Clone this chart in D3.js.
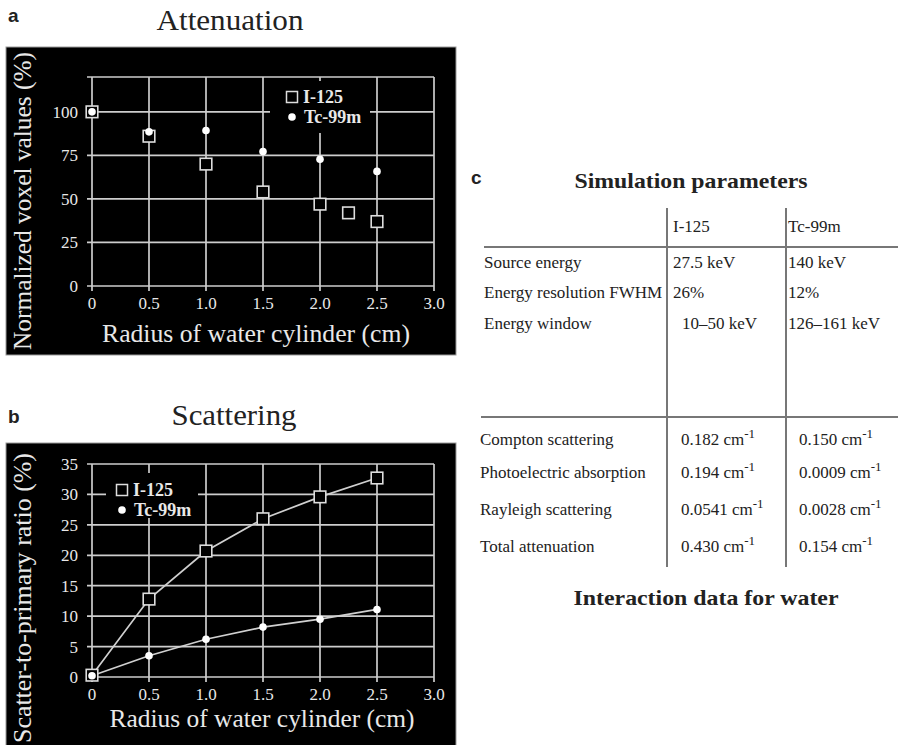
<!DOCTYPE html>
<html><head><meta charset="utf-8">
<script src="https://cdn.jsdelivr.net/npm/d3@7"></script>
<style>
body{margin:0;background:#fff;}
svg{display:block;}
</style></head>
<body>
<svg id="c" width="898" height="745"></svg>
<script>
// ---------- data ----------
const radius = [0, 0.5, 1.0, 1.5, 2.0, 2.5];
const attenI125X = [0, 0.5, 1.0, 1.5, 2.0, 2.25, 2.5];
const attenI125 = [100, 86, 70, 54, 47, 42, 37];
const attenTc99m = [100, 88.5, 89.3, 77.2, 72.8, 65.8];
const scatI125 = [0.3, 12.8, 20.7, 26, 29.6, 32.7];
const scatTc99m = [0.2, 3.5, 6.2, 8.2, 9.5, 11.1];
const xTicks = [0, 0.5, 1.0, 1.5, 2.0, 2.5, 3.0];
const attenYTicks = [0, 25, 50, 75, 100];
const scatYTicks = [0, 5, 10, 15, 20, 25, 30, 35];
const seriesNames = ["I-125", "Tc-99m"];
const tableCols = ["I-125", "Tc-99m"];
const simRows = ["Source energy", "Energy resolution FWHM", "Energy window"];
const simI125 = ["27.5 keV", "26%", "10\u201350 keV"];
const simTc = ["140 keV", "12%", "126\u2013161 keV"];
const intRows = ["Compton scattering", "Photoelectric absorption", "Rayleigh scattering", "Total attenuation"];
const intI125 = ["0.182", "0.194", "0.0541", "0.430"];
const intTc = ["0.150", "0.0009", "0.0028", "0.154"];

const svg = d3.select("#c");
const serif = "'Liberation Serif','Times New Roman',serif";
const sans = "'Liberation Sans',Arial,sans-serif";
const gridCol = "#cdcdcd", txtCol = "#e8e8e8";

function fmtX(d){ return d === 0 ? "0" : d.toFixed(1); }

function panel(o){
  const g = svg.append("g");
  g.append("text").attr("x", 8).attr("y", o.letterY).text(o.letter)
    .attr("font-family", sans).attr("font-weight", "bold").attr("font-size", 19).attr("fill", "#222");
  g.append("text").attr("x", o.titleX).attr("y", o.titleY).text(o.title)
    .attr("text-anchor", "middle").attr("font-family", serif).attr("font-size", 29).attr("fill", "#222")
    .attr("textLength", o.titleW).attr("lengthAdjust", "spacingAndGlyphs");
  g.append("rect").attr("x", o.box[0]).attr("y", o.box[1]).attr("width", o.box[2]).attr("height", o.box[3])
    .attr("fill", "#000").attr("stroke", "#999").attr("stroke-width", 1);

  const x = d3.scaleLinear().domain([0, 3]).range([92, 434]);
  const y = d3.scaleLinear().domain(o.yDomain).range(o.yRange);
  const grid = g.append("g").attr("stroke", gridCol).attr("stroke-width", 1.7);
  const hLines = o.yTicks.concat(o.yDomain[1] !== o.yTicks[o.yTicks.length-1] ? [o.yDomain[1]] : []);
  grid.selectAll(".h").data(hLines).join("line")
    .attr("x1", x(0) - 5).attr("x2", x(3)).attr("y1", d => y(d)).attr("y2", d => y(d));
  grid.selectAll(".v").data(xTicks).join("line")
    .attr("x1", d => x(d)).attr("x2", d => x(d)).attr("y1", y(o.yDomain[1])).attr("y2", y(0) + 5);

  g.append("g").selectAll("text").data(o.yTicks).join("text")
    .attr("x", 78).attr("y", d => y(d)).attr("dy", "0.35em").attr("text-anchor", "end")
    .attr("font-family", serif).attr("font-size", 17).attr("fill", txtCol).text(d => d);
  g.append("g").selectAll("text").data(xTicks).join("text")
    .attr("x", d => x(d)).attr("y", o.xLabY).attr("text-anchor", "middle")
    .attr("font-family", serif).attr("font-size", 17).attr("fill", txtCol).text(fmtX);
  g.append("text").attr("x", o.xTitleX).attr("y", o.xTitleY).attr("text-anchor", "middle")
    .attr("font-family", serif).attr("font-size", 25).attr("fill", txtCol).text("Radius of water cylinder (cm)")
    .attr("textLength", o.xTitleW).attr("lengthAdjust", "spacingAndGlyphs");
  g.append("text").attr("transform", `translate(31,${o.yTitleC}) rotate(-90)`).attr("text-anchor", "middle")
    .attr("font-family", serif).attr("font-size", 25).attr("fill", txtCol).text(o.yTitle)
    .attr("textLength", o.yTitleW).attr("lengthAdjust", "spacingAndGlyphs");

  const L = o.legend;
  g.append("rect").attr("x", L.x).attr("y", L.y).attr("width", L.w).attr("height", L.h).attr("fill", "#000");
  g.append("rect").attr("x", L.mx - 5.5).attr("y", L.y1 - 5.5).attr("width", 11).attr("height", 11)
    .attr("fill", "#000").attr("stroke", "#ddd").attr("stroke-width", 1.5);
  g.append("circle").attr("cx", L.mx).attr("cy", L.y2).attr("r", 3.8).attr("fill", "#fff");
  g.append("text").attr("x", L.mx + 11).attr("y", L.y1).attr("dy", "0.35em").text(seriesNames[0])
    .attr("font-family", serif).attr("font-weight", "bold").attr("font-size", 18).attr("fill", txtCol);
  g.append("text").attr("x", L.mx + 12).attr("y", L.y2).attr("dy", "0.35em").text(seriesNames[1])
    .attr("font-family", serif).attr("font-weight", "bold").attr("font-size", 18).attr("fill", txtCol);

  const d1 = o.s1x.map((v, i) => [v, o.s1[i]]);
  const d2 = radius.map((v, i) => [v, o.s2[i]]);
  if (o.lines) {
    const line = d3.line().x(d => x(d[0])).y(d => y(d[1]));
    g.append("path").attr("d", line(d1)).attr("fill", "none").attr("stroke", "#d0d0d0").attr("stroke-width", 1.7);
    g.append("path").attr("d", line(d2)).attr("fill", "none").attr("stroke", "#d0d0d0").attr("stroke-width", 1.7);
  }
  g.append("g").selectAll("rect").data(d1).join("rect")
    .attr("x", d => x(d[0]) - 5.8).attr("y", d => y(d[1]) - 5.8).attr("width", 11.6).attr("height", 11.6)
    .attr("fill", "#000").attr("stroke", "#ddd").attr("stroke-width", 1.6);
  g.append("g").selectAll("circle").data(d2).join("circle")
    .attr("cx", d => x(d[0])).attr("cy", d => y(d[1])).attr("r", 3.8).attr("fill", "#fff");
}

panel({
  letter: "a", letterY: 22, title: "Attenuation", titleX: 230, titleY: 30, titleW: 147,
  box: [6, 47, 450, 308],
  yDomain: [0, 120], yRange: [286, 77], yTicks: attenYTicks,
  xLabY: 309, xTitleX: 256, xTitleY: 342, xTitleW: 308,
  yTitle: "Normalized voxel values (%)", yTitleC: 201, yTitleW: 298,
  legend: {x: 270, y: 81, w: 100, h: 52, mx: 292, y1: 97, y2: 117},
  s1x: attenI125X, s1: attenI125, s2: attenTc99m, lines: false
});
panel({
  letter: "b", letterY: 423, title: "Scattering", titleX: 234, titleY: 425, titleW: 125,
  box: [6, 443, 450, 305],
  yDomain: [0, 35], yRange: [677, 464], yTicks: scatYTicks,
  xLabY: 700, xTitleX: 262, xTitleY: 727, xTitleW: 305,
  yTitle: "Scatter-to-primary ratio (%)", yTitleC: 598, yTitleW: 290,
  legend: {x: 106, y: 473, w: 92, h: 45, mx: 122, y1: 490, y2: 510},
  s1x: radius, s1: scatI125, s2: scatTc99m, lines: true
});

// ---------- table c ----------
const t = svg.append("g");
const tc = "#222", lc = "#777";
t.append("text").attr("x", 471).attr("y", 184).text("c").attr("font-family", sans).attr("font-weight", "bold").attr("font-size", 19).attr("fill", tc);
t.append("text").attr("x", 691).attr("y", 188).attr("text-anchor", "middle").text("Simulation parameters")
  .attr("font-family", serif).attr("font-weight", "bold").attr("font-size", 21).attr("fill", tc)
  .attr("textLength", 233).attr("lengthAdjust", "spacingAndGlyphs");
t.append("text").attr("x", 706).attr("y", 605).attr("text-anchor", "middle").text("Interaction data for water")
  .attr("font-family", serif).attr("font-weight", "bold").attr("font-size", 21).attr("fill", tc)
  .attr("textLength", 265).attr("lengthAdjust", "spacingAndGlyphs");
const colX = [667, 786];
t.selectAll(".vl").data(colX).join("line").attr("x1", d => d).attr("x2", d => d).attr("y1", 208).attr("y2", 567)
  .attr("stroke", lc).attr("stroke-width", 2);
t.selectAll(".hl").data([[484, 247], [481, 417]]).join("line").attr("x1", d => d[0]).attr("x2", 898)
  .attr("y1", d => d[1]).attr("y2", d => d[1]).attr("stroke", lc).attr("stroke-width", 2);
const fs = 17;
function txt(x, y, s) { return t.append("text").attr("x", x).attr("y", y).text(s).attr("font-family", serif).attr("font-size", fs).attr("fill", tc); }
tableCols.forEach((c, i) => txt([673, 788][i], 232, c));
const simY = [268, 298, 329];
simRows.forEach((r, i) => { txt(484, simY[i], r); txt(i === 2 ? 682 : 673, simY[i], simI125[i]); txt(788, simY[i], simTc[i]); });
const intY = [445, 478, 515, 552];
function cm(x, y, v) {
  const e = txt(x, y, v + " cm");
  e.append("tspan").attr("dy", -7).attr("font-size", 13).text("-1");
}
intRows.forEach((r, i) => { txt(480, intY[i], r); cm(681, intY[i], intI125[i]); cm(799, intY[i], intTc[i]); });
</script>
</body></html>
